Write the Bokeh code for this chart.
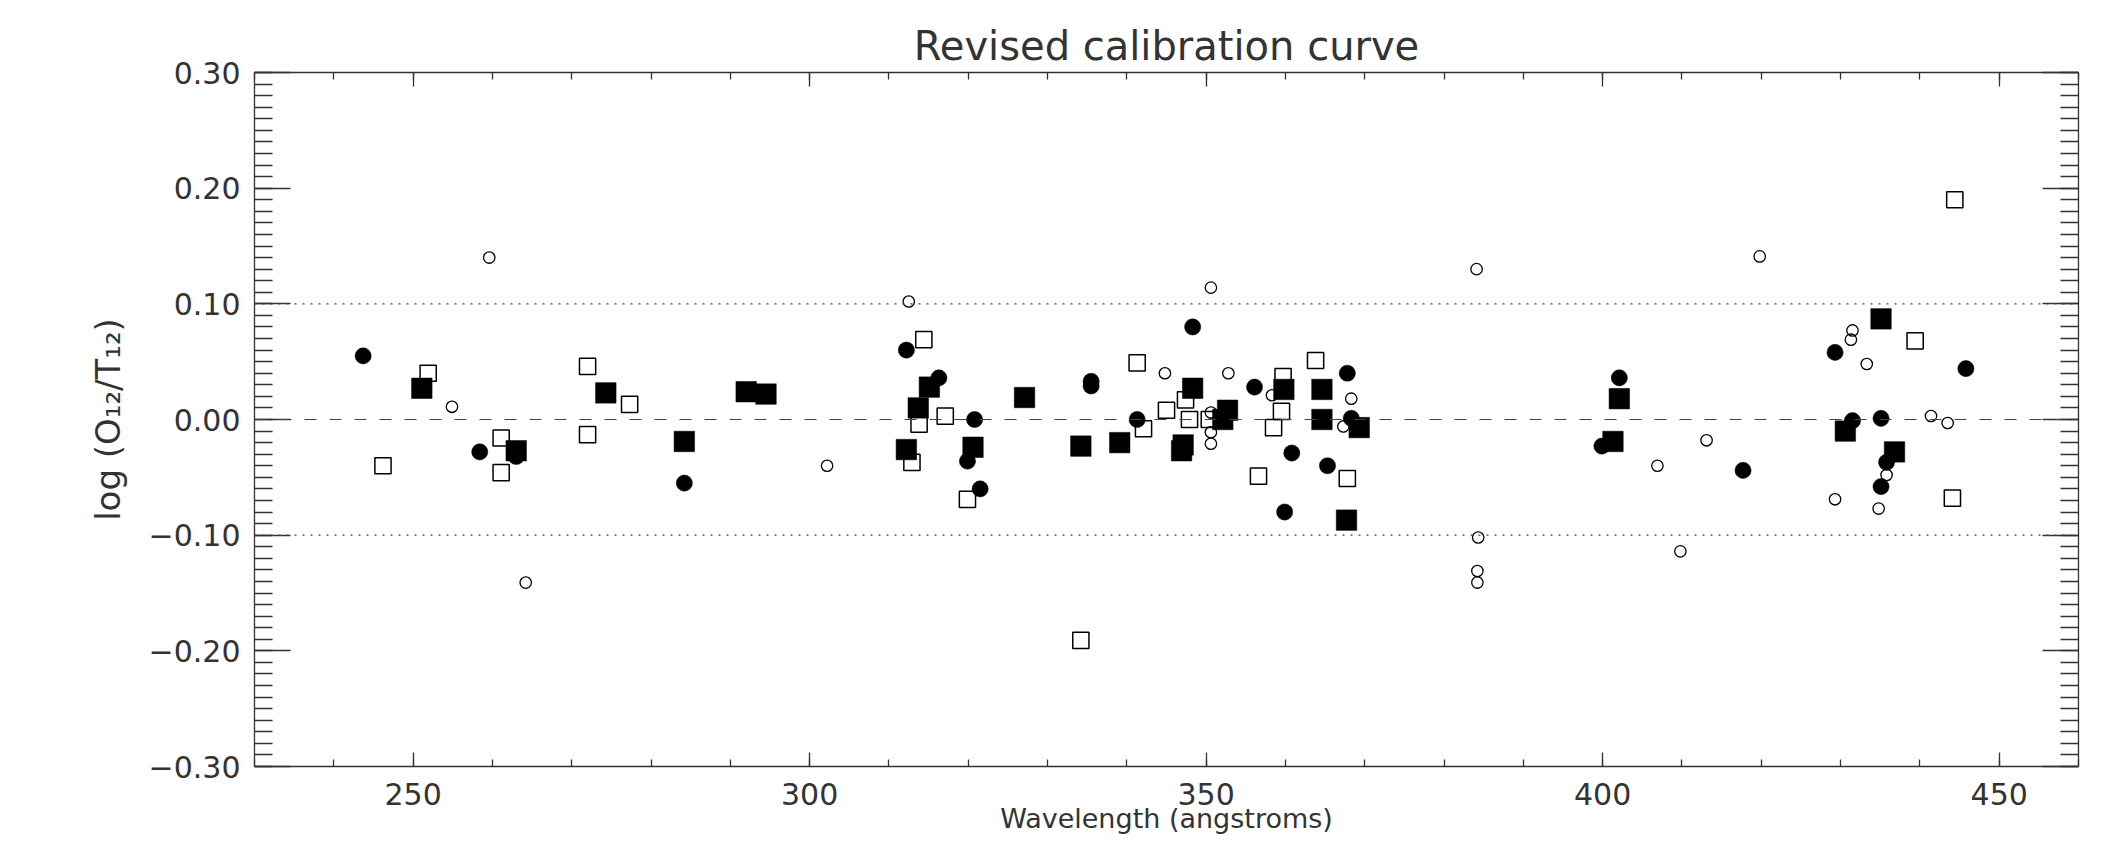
import numpy as np
from bokeh.plotting import figure
from bokeh.models import LinearAxis, FixedTicker, Span, Range1d
from bokeh.embed import file_html
from bokeh.resources import INLINE

# ---------------- data ----------------
# filled circles
fc_x = [243.7, 258.4, 263.0, 284.2, 312.2, 316.3, 319.9, 320.8, 321.5, 335.5,
        335.5, 341.3, 348.3, 356.1, 359.9, 360.8, 365.3, 367.8, 368.3, 399.9,
        402.1, 417.7, 429.3, 431.5, 435.1, 435.1, 435.8, 445.8]
fc_y = [0.055, -0.028, -0.032, -0.055, 0.060, 0.036, -0.036, 0.000, -0.060, 0.033,
        0.029, 0.000, 0.080, 0.028, -0.080, -0.029, -0.040, 0.040, 0.001, -0.023,
        0.036, -0.044, 0.058, -0.001, 0.001, -0.058, -0.037, 0.044]

# open circles
oc_x = [254.9, 259.6, 264.2, 302.2, 312.5, 344.8, 350.6, 350.6, 350.6, 350.6,
        352.8, 358.3, 367.3, 368.3, 384.1, 384.3, 384.2, 384.2, 406.9, 409.8,
        413.1, 419.8, 429.3, 431.3, 431.5, 433.3, 434.8, 435.8, 441.4, 443.5]
oc_y = [0.011, 0.140, -0.141, -0.040, 0.102, 0.040, 0.114, 0.006, -0.011, -0.021,
        0.040, 0.021, -0.006, 0.018, 0.130, -0.102, -0.131, -0.141, -0.040, -0.114,
        -0.018, 0.141, -0.069, 0.069, 0.077, 0.048, -0.077, -0.048, 0.003, -0.003]

# filled squares
fs_x = [251.1, 263.0, 274.3, 284.2, 292.0, 294.5, 312.2, 313.7, 315.1, 320.6,
        327.1, 334.2, 339.1, 346.9, 347.1, 348.3, 352.1, 352.7, 359.8, 364.6,
        364.6, 367.7, 369.3, 401.3, 402.1, 430.6, 435.1, 436.8]
fs_y = [0.027, -0.027, 0.023, -0.019, 0.024, 0.022, -0.026, 0.010, 0.028, -0.024,
        0.019, -0.023, -0.020, -0.027, -0.022, 0.027, 0.000, 0.008, 0.026, 0.026,
        0.000, -0.087, -0.007, -0.019, 0.018, -0.010, 0.087, -0.028]

# open squares
os_x = [246.2, 251.9, 261.1, 261.1, 272.0, 272.0, 277.3, 312.9, 313.8, 314.4,
        317.1, 319.9, 334.2, 341.3, 342.1, 345.0, 347.4, 347.9, 350.4, 356.6,
        358.5, 359.5, 359.7, 363.8, 367.8, 439.4, 444.1, 444.4]
os_y = [-0.040, 0.040, -0.016, -0.046, 0.046, -0.013, 0.013, -0.037, -0.004, 0.069,
        0.003, -0.069, -0.191, 0.049, -0.008, 0.008, 0.017, 0.000, 0.000, -0.049,
        -0.007, 0.007, 0.037, 0.051, -0.051, 0.068, -0.068, 0.190]

# reference lines
zero_level = 0.0
band_levels = [0.1, -0.1]

# axes
x_ticks = [250, 300, 350, 400, 450]
x_tick_labels = ["250", "300", "350", "400", "450"]
y_ticks = [-0.3, -0.2, -0.1, 0.0, 0.1, 0.2, 0.3]
y_tick_labels = ["\u22120.30", "\u22120.20", "\u22120.10", "0.00", "0.10", "0.20", "0.30"]
x_minor = list(range(230, 461, 10))
y_minor = [round(v, 2) for v in np.arange(-0.30, 0.3001, 0.01)]

FONT = "DejaVu Sans"
INK = "#333333"

p = figure(frame_width=1824, frame_height=694,
           x_range=Range1d(230, 460), y_range=Range1d(-0.3, 0.3),
           output_backend="svg", toolbar_location=None,
           min_border_left=254, min_border_right=19,
           min_border_top=72, min_border_bottom=79,
           background_fill_color="white", border_fill_color="white")
p.outline_line_color = None
p.grid.visible = False

p.title.text = "Revised calibration curve"
p.title.align = "center"
p.title.text_font = FONT
p.title.text_font_size = "40px"
p.title.text_font_style = "normal"
p.title.text_color = INK
p.title.standoff = 8


def style(ax, ticks, minor, major_len, minor_len, labels):
    ax.ticker = FixedTicker(ticks=ticks, minor_ticks=minor)
    ax.axis_line_color = INK
    ax.axis_line_width = 1.3
    ax.major_tick_in = major_len
    ax.major_tick_out = 0
    ax.minor_tick_in = minor_len
    ax.minor_tick_out = 0
    ax.major_tick_line_color = INK
    ax.minor_tick_line_color = INK
    ax.major_tick_line_width = 1.3
    ax.minor_tick_line_width = 1.3
    if labels is None:
        # mirrored axis: ticks only, no labels drawn
        ax.major_label_text_font_size = "0px"
        ax.major_label_text_color = None
        ax.major_label_text_alpha = 0
        ax.major_label_standoff = 0
    else:
        ax.major_label_overrides = dict(zip(ticks, labels))
        ax.major_label_text_font = FONT
        ax.major_label_text_font_size = "30px"
        ax.major_label_text_color = INK


xb = p.xaxis[0]
style(xb, x_ticks, x_minor, 14, 7, x_tick_labels)
xb.major_label_standoff = 16
xb.axis_label = "Wavelength (angstroms)"
xb.axis_label_text_font = FONT
xb.axis_label_text_font_size = "27px"
xb.axis_label_text_font_style = "normal"
xb.axis_label_text_color = INK
xb.axis_label_standoff = -5

yl = p.yaxis[0]
style(yl, y_ticks, y_minor, 36, 18, y_tick_labels)
yl.major_label_standoff = 14
yl.axis_label = "log (O\u2081\u2082/T\u2081\u2082)"
yl.axis_label_text_font = FONT
yl.axis_label_text_font_size = "34px"
yl.axis_label_text_font_style = "normal"
yl.axis_label_text_color = INK
yl.axis_label_standoff = 18

xt = LinearAxis()
style(xt, x_ticks, x_minor, 14, 7, None)
p.add_layout(xt, "above")

yr = LinearAxis()
style(yr, y_ticks, y_minor, 36, 18, None)
p.add_layout(yr, "right")

for lvl in band_levels:
    p.add_layout(Span(location=lvl, dimension="width", line_color="#444444",
                      line_width=1.2, line_dash="2 6"))
p.add_layout(Span(location=zero_level, dimension="width", line_color="#444444",
                  line_width=1.2, line_dash="12 13"))

p.scatter(oc_x, oc_y, marker="circle", size=11.4, fill_color=None,
          line_color="black", line_width=1.3)
p.scatter(os_x, os_y, marker="square", size=16.2, fill_color=None,
          line_color="black", line_width=1.5)
p.scatter(fc_x, fc_y, marker="circle", size=16.2, fill_color="black",
          line_color="black", line_width=0.5)
p.scatter(fs_x, fs_y, marker="square", size=20.5, fill_color="black",
          line_color="black", line_width=0.5)

open("out.html", "w").write(file_html(p, INLINE))
